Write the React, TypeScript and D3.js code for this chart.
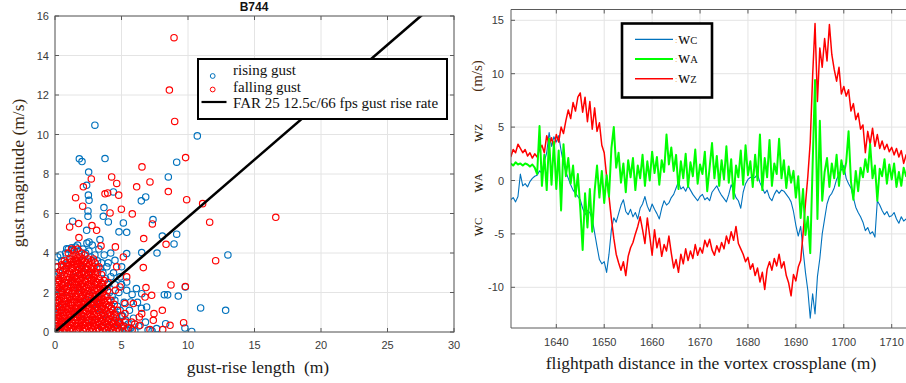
import React from "react";
import * as d3 from "d3";

// ---------- Left chart data (B744 gusts) ----------
const risingGust: [number, number][] = [
  [3.0, 10.47], [10.7, 9.93], [1.83, 8.77], [2.03, 8.63], [3.76, 8.78], [9.15, 8.6], [8.52, 7.85],
  [2.53, 8.1], [2.38, 7.43], [2.51, 6.93], [2.56, 6.67], [4.39, 7.09], [6.49, 6.64], [6.82, 6.84],
  [3.68, 6.3], [2.48, 6.13], [2.48, 5.86], [3.63, 5.86], [4.01, 5.57], [7.37, 5.69], [1.33, 5.61],
  [5.14, 5.52], [5.39, 5.05], [4.81, 5.07], [2.38, 5.15], [9.15, 4.95], [8.07, 4.86], [8.95, 4.46],
  [2.56, 4.56], [3.38, 4.68], [7.67, 4.0], [13.0, 3.9], [6.52, 4.02], [5.39, 3.97], [0.2, 3.8],
  [4.19, 4.0], [0.88, 4.22], [1.25, 4.27], [9.27, 1.82], [8.47, 1.88], [8.22, 1.89], [10.95, 1.22],
  [12.83, 1.1], [9.8, 2.28], [10.28, 0.03], [9.77, 0.2], [6.12, 2.2], [6.52, 1.94], [5.69, 1.52],
  [5.39, 2.53], [5.39, 2.11], [6.89, 1.27], [8.32, 0.42], [7.64, 0.17], [5.51, 0.08], [5.04, 0.84],
  [4.51, 3.63], [5.01, 3.3], [4.89, 2.79],
  [0.05, 1.5], [0.1, 1.9], [0.02, 1.2], [0.15, 2.3], [0.3, 3.0], [0.5, 3.6], [0.8, 4.0], [1.0, 4.2],
  [1.3, 4.15], [1.55, 4.3], [1.8, 4.1], [2.1, 4.2], [2.3, 4.0], [2.55, 4.1], [2.7, 3.8], [3.0, 3.9],
  [2.2, 3.6], [1.2, 3.7], [0.9, 3.4], [3.2, 3.6], [3.4, 3.2], [3.6, 3.0], [3.8, 2.7], [4.0, 2.4],
  [4.1, 2.0], [4.3, 1.8], [4.5, 1.6], [4.7, 1.3], [4.9, 1.1], [5.1, 0.8], [5.3, 0.6], [5.5, 0.4],
  [5.7, 0.2], [6.0, 0.05], [5.9, 0.7], [5.6, 1.1], [5.2, 1.5], [4.8, 2.0], [4.5, 2.4], [4.2, 2.8],
  [3.9, 3.3], [3.5, 3.5], [4.6, 0.9], [4.4, 0.5], [4.0, 0.2], [3.7, 0.9], [3.3, 1.7], [3.0, 2.4],
  [2.5, 2.9], [2.0, 3.2], [1.5, 2.8], [1.0, 2.5], [0.5, 2.0], [0.3, 1.0], [0.8, 0.5], [1.5, 1.0],
  [2.2, 1.5], [2.8, 0.6], [3.5, 0.3], [0.2, 0.3], [0.6, 1.4], [1.8, 2.2], [2.6, 1.9], [3.2, 1.2],
  [4.2, 1.2], [4.8, 0.4], [5.4, 0.1], [6.3, 0.3], [6.5, 1.2], [6.2, 1.5], [5.8, 1.9], [5.0, 2.4],
  [4.4, 3.0], [4.0, 3.5], [3.7, 3.9], [3.3, 4.2], [2.8, 4.4], [0.0, 2.8], [0.05, 3.3], [0.4, 3.9],
  [1.7, 4.4], [2.4, 4.5], [1.1, 1.8], [2.0, 0.8], [2.9, 1.4], [3.6, 2.2], [0.0, 0.6], [0.1, 0.1],
  [7.0, 0.1], [6.8, 0.5], [7.3, 0.05],
];

const fallingGust: [number, number][] = [
  [8.95, 14.9], [8.6, 12.25], [9.0, 10.66], [9.82, 8.83], [6.54, 8.36], [9.9, 6.7], [11.1, 6.5],
  [11.63, 5.56], [16.6, 5.81], [12.08, 3.61], [8.52, 7.11], [7.14, 7.6], [6.14, 7.35], [4.26, 7.85],
  [4.64, 7.52], [4.79, 6.93], [3.96, 7.04], [2.73, 7.75], [2.13, 7.35], [1.55, 6.8], [2.08, 6.37],
  [4.14, 6.03], [4.99, 6.22], [5.81, 5.98], [7.32, 5.47], [6.67, 4.73], [8.35, 4.44], [6.64, 3.26],
  [8.72, 2.38], [9.8, 2.3], [6.84, 2.25], [1.1, 5.32], [1.78, 5.49], [1.8, 4.78], [2.78, 5.39],
  [3.13, 5.15], [3.46, 4.36], [4.54, 4.31], [3.76, 7.0], [9.67, 0.47], [8.65, 0.34], [7.14, 0.12],
  [7.39, 0.59], [8.07, 1.1], [7.44, 0.93], [7.27, 1.86], [6.77, 1.77], [6.52, 0.93], [5.89, 1.44],
  [5.76, 0.5], [6.39, 0.34], [8.1, 0.12], [6.34, 0.76], [5.26, 1.44], [5.26, 0.93], [4.89, 2.28],
  [4.64, 3.3], [5.39, 2.79], [4.54, 2.11], [5.14, 3.8],
  [0.08, 0.05], [0.12, 0.3], [0.05, 0.6], [0.15, 0.85], [0.1, 1.15], [0.06, 1.45], [0.14, 1.8], [0.09, 2.1], [0.2, 2.5], [0.12, 2.9],
  [0.33, 0.1], [0.38, 0.4], [0.3, 0.7], [0.4, 0.95], [0.35, 1.25], [0.32, 1.6], [0.42, 1.9], [0.36, 2.25], [0.3, 2.6], [0.4, 3.1],
  [0.58, 0.02], [0.62, 0.25], [0.55, 0.55], [0.65, 0.85], [0.6, 1.1], [0.57, 1.4], [0.66, 1.7], [0.6, 2.0], [0.55, 2.35], [0.63, 2.7], [0.58, 3.05], [0.62, 3.35],
  [0.86, 0.12], [0.82, 0.45], [0.9, 0.7], [0.84, 1.0], [0.88, 1.3], [0.8, 1.55], [0.9, 1.85], [0.85, 2.15], [0.82, 2.5], [0.9, 2.8], [0.86, 3.2], [0.84, 3.5],
  [1.1, 0.05], [1.14, 0.35], [1.06, 0.6], [1.12, 0.9], [1.08, 1.2], [1.15, 1.5], [1.1, 1.8], [1.05, 2.1], [1.13, 2.4], [1.1, 2.75], [1.07, 3.05], [1.14, 3.4], [1.1, 3.7],
  [1.35, 0.15], [1.32, 0.45], [1.4, 0.75], [1.36, 1.05], [1.3, 1.35], [1.38, 1.65], [1.34, 1.95], [1.4, 2.25], [1.33, 2.55], [1.37, 2.9], [1.32, 3.2], [1.39, 3.55], [1.35, 3.85],
  [1.6, 0.05], [1.63, 0.3], [1.57, 0.6], [1.62, 0.9], [1.58, 1.2], [1.65, 1.5], [1.6, 1.8], [1.56, 2.1], [1.63, 2.4], [1.6, 2.7], [1.57, 3.0], [1.64, 3.3], [1.6, 3.6], [1.58, 3.9],
  [1.85, 0.2], [1.88, 0.5], [1.82, 0.8], [1.87, 1.1], [1.83, 1.4], [1.9, 1.7], [1.85, 2.0], [1.8, 2.3], [1.88, 2.6], [1.84, 2.9], [1.86, 3.2], [1.82, 3.5], [1.88, 3.8],
  [2.1, 0.05], [2.12, 0.35], [2.06, 0.65], [2.14, 0.95], [2.08, 1.25], [2.12, 1.55], [2.07, 1.85], [2.13, 2.15], [2.1, 2.45], [2.05, 2.75], [2.14, 3.05], [2.1, 3.35], [2.08, 3.7],
  [2.35, 0.15], [2.32, 0.45], [2.38, 0.75], [2.34, 1.05], [2.4, 1.35], [2.33, 1.65], [2.37, 1.95], [2.35, 2.25], [2.3, 2.55], [2.38, 2.85], [2.34, 3.2], [2.36, 3.5],
  [2.6, 0.05], [2.63, 0.3], [2.57, 0.6], [2.62, 0.9], [2.58, 1.2], [2.64, 1.5], [2.6, 1.8], [2.56, 2.1], [2.62, 2.4], [2.59, 2.75], [2.63, 3.05], [2.58, 3.4],
  [2.85, 0.15], [2.88, 0.45], [2.82, 0.75], [2.87, 1.05], [2.84, 1.35], [2.9, 1.65], [2.85, 1.95], [2.8, 2.25], [2.88, 2.6], [2.84, 2.95], [2.86, 3.3],
  [3.1, 0.05], [3.12, 0.35], [3.06, 0.65], [3.14, 0.95], [3.08, 1.25], [3.12, 1.55], [3.07, 1.9], [3.13, 2.2], [3.1, 2.55], [3.05, 2.9], [3.14, 3.25],
  [3.35, 0.1], [3.32, 0.4], [3.38, 0.7], [3.34, 1.0], [3.4, 1.3], [3.33, 1.6], [3.37, 1.95], [3.35, 2.3], [3.3, 2.7],
  [3.6, 0.05], [3.63, 0.35], [3.57, 0.65], [3.62, 0.95], [3.58, 1.3], [3.64, 1.65], [3.6, 2.0], [3.56, 2.4],
  [3.85, 0.1], [3.88, 0.4], [3.82, 0.7], [3.87, 1.05], [3.84, 1.4], [3.9, 1.8],
  [4.1, 0.05], [4.12, 0.35], [4.06, 0.65], [4.14, 1.0], [4.08, 1.35],
  [4.35, 0.1], [4.32, 0.4], [4.38, 0.75], [4.34, 1.1],
  [4.6, 0.05], [4.63, 0.35], [4.57, 0.7], [4.85, 0.1], [4.88, 0.45], [5.1, 0.05], [5.15, 0.3],
  [0.2, 3.3], [0.7, 3.6], [1.0, 4.0], [1.45, 4.1], [1.7, 4.2], [2.0, 4.0], [2.25, 3.9], [2.5, 3.7],
  [2.75, 3.6], [3.0, 3.5], [3.2, 3.0], [3.5, 2.9], [3.7, 2.6], [3.95, 2.1], [4.2, 1.6], [4.45, 1.4],
  [4.7, 1.1], [5.0, 0.8], [5.3, 0.5], [5.5, 0.2], [5.8, 0.1], [6.0, 0.4], [1.25, 4.2], [0.5, 3.4],
  [2.9, 3.7], [3.3, 3.3], [0.05, 2.4], [4.0, 2.5],
  [0.22, 0.2], [0.19, 0.45], [0.25, 0.75], [0.2, 1.0], [0.24, 1.3], [0.18, 1.6], [0.23, 1.95], [0.2, 2.3], [0.25, 2.7],
  [0.47, 0.25], [0.5, 0.55], [0.44, 0.8], [0.49, 1.1], [0.45, 1.4], [0.5, 1.75], [0.46, 2.1], [0.49, 2.45], [0.44, 2.85],
  [0.72, 0.12], [0.7, 0.4], [0.75, 0.7], [0.69, 1.0], [0.74, 1.25], [0.71, 1.55], [0.76, 1.85], [0.7, 2.2], [0.73, 2.5], [0.69, 2.9], [0.75, 3.2],
  [0.97, 0.25], [0.94, 0.55], [1.0, 0.85], [0.96, 1.15], [0.99, 1.45], [0.95, 1.7], [1.0, 2.0], [0.96, 2.3], [0.98, 2.65], [0.94, 2.95], [0.99, 3.35],
  [1.22, 0.2], [1.25, 0.5], [1.2, 0.75], [1.24, 1.05], [1.19, 1.35], [1.23, 1.65], [1.26, 1.95], [1.21, 2.25], [1.24, 2.6], [1.2, 2.9], [1.25, 3.25], [1.22, 3.55],
  [1.47, 0.3], [1.5, 0.6], [1.45, 0.9], [1.49, 1.2], [1.46, 1.5], [1.5, 1.8], [1.44, 2.1], [1.48, 2.4], [1.45, 2.75], [1.5, 3.05], [1.47, 3.4], [1.49, 3.7],
  [1.72, 0.15], [1.75, 0.45], [1.7, 0.75], [1.74, 1.05], [1.71, 1.35], [1.76, 1.65], [1.72, 1.95], [1.69, 2.25], [1.74, 2.55], [1.7, 2.85], [1.75, 3.15], [1.72, 3.45], [1.7, 3.75],
  [1.97, 0.3], [2.0, 0.6], [1.95, 0.9], [1.99, 1.2], [1.96, 1.5], [2.0, 1.8], [1.94, 2.1], [1.98, 2.4], [1.95, 2.7], [2.0, 3.0], [1.96, 3.35], [1.99, 3.6],
  [2.22, 0.2], [2.25, 0.5], [2.2, 0.8], [2.24, 1.1], [2.21, 1.4], [2.26, 1.7], [2.22, 2.0], [2.19, 2.3], [2.24, 2.6], [2.2, 2.9], [2.25, 3.2], [2.22, 3.55],
  [2.47, 0.3], [2.5, 0.6], [2.45, 0.9], [2.49, 1.2], [2.46, 1.5], [2.5, 1.8], [2.44, 2.1], [2.48, 2.4], [2.45, 2.7], [2.5, 3.0], [2.47, 3.3],
  [2.72, 0.2], [2.75, 0.5], [2.7, 0.8], [2.74, 1.1], [2.71, 1.4], [2.76, 1.7], [2.72, 2.0], [2.69, 2.3], [2.74, 2.6], [2.7, 2.9], [2.75, 3.2],
  [2.97, 0.3], [3.0, 0.6], [2.95, 0.9], [2.99, 1.2], [2.96, 1.5], [3.0, 1.8], [2.94, 2.1], [2.98, 2.4], [2.95, 2.75], [3.0, 3.05],
  [3.22, 0.2], [3.25, 0.5], [3.2, 0.8], [3.24, 1.1], [3.21, 1.45], [3.26, 1.8], [3.22, 2.1], [3.19, 2.5],
  [3.47, 0.25], [3.5, 0.55], [3.45, 0.85], [3.49, 1.15], [3.46, 1.5], [3.5, 1.8], [3.44, 2.15], [3.48, 2.5],
  [3.72, 0.2], [3.75, 0.5], [3.7, 0.8], [3.74, 1.15], [3.71, 1.5], [3.76, 1.85], [3.72, 2.2],
  [3.97, 0.25], [4.0, 0.55], [3.95, 0.9], [3.99, 1.25], [3.96, 1.6],
  [4.22, 0.2], [4.25, 0.5], [4.2, 0.85], [4.24, 1.2],
  [4.47, 0.25], [4.5, 0.55], [4.45, 0.9], [4.72, 0.2], [4.75, 0.5], [4.97, 0.3], [0.02, 0.3], [0.03, 1.0], [0.02, 1.75],
];

const farRiseLine: [number, number][] = [[0, 0], [30, 17.45]];
const gustXTicks = [0, 5, 10, 15, 20, 25, 30];
const gustYTicks = [0, 2, 4, 6, 8, 10, 12, 14, 16];
const gustLegend = ["rising gust", "falling gust", "FAR 25 12.5c/66 fps gust rise rate"];

// ---------- Right chart data (velocity components) ----------
const distanceStart = 1630.5;
const distanceStep = 0.5;
const wC = [
  -1.8, -1.6, -2.0, -1.5, 0.6, -0.5, -0.3, -0.6, -0.1, 0.2,
  0.4, 0.5, 0.9, 0.7, 1.8, 2.6, 4.5, 3.2, 4.1, 3.6,
  4.2, 2.8, 1.6, 0.8, 0.2, -0.4, -0.9, -1.2, -1.5, -1.8,
  -2.6, -3.2, -2.8, -3.0, -3.6, -4.9, -6.2, -7.4, -7.8, -7.6,
  -8.6, -6.9, -4.6, -3.5, -3.9, -3.1, -2.3, -1.8, -2.9, -3.2,
  -2.7, -3.4, -3.0, -3.6, -2.6, -2.2, -1.5, -2.4, -2.9, -2.2,
  -2.7, -3.1, -3.6, -2.6, -1.9, -2.3, -2.1, -1.6, -1.3, -0.7,
  -0.1, -0.8, -0.6, -1.0, -0.5, -0.9, -1.3, -1.6, -1.9, -1.5,
  -1.3, -1.8, -1.6, -1.9, -1.1, -0.8, -0.5, -1.0, -1.4, -1.7,
  -2.0, -1.3, -0.4, -0.9, -1.6, -1.9, -2.6, -1.1, -0.3, 0.1,
  0.3, 0.2, 0.3, 0.6, -0.2, -0.7, -1.2, -0.9, -1.6, -1.9,
  -1.3, -0.9, -1.2, -0.9, -1.0, -1.3, -1.6, -2.0, -2.9, -4.2,
  -5.2, -4.3, -6.5, -8.6, -10.3, -12.9, -10.6, -12.5, -9.0, -7.3,
  -5.0, -3.6, -2.2, -1.5, -1.2, -0.7, 0.1, 0.6, 1.0, 1.4,
  0.2, -0.3, -0.7, -1.6, -2.5, -3.0, -3.4, -3.9, -4.7, -4.4,
  -5.0, -4.8, -5.3, -1.9, -2.3, -2.8, -3.2, -2.9, -3.4, -3.3,
  -3.0, -3.6, -4.0, -3.4, -3.8, -3.6, -3.7,
];
const wA = [
  1.6, 1.4, 1.7, 1.5, 1.6, 1.4, 1.6, 1.5, 1.3, 1.5,
  1.2, 0.6, 5.1, -0.5, 2.4, -0.9, 3.9, -0.4, 3.6, -0.8,
  2.8, -2.8, 3.4, 0.4, 2.1, -0.3, 1.4, -1.5, 0.6, -2.6,
  -6.5, -1.2, -4.4, -0.8, -4.8, -1.0, 1.4, -1.6, 0.9, -2.1,
  0.5, -1.5, 3.0, 5.0, 1.2, 2.6, -0.2, 1.6, -1.1, 1.9,
  0.3, 2.1, -0.9, 1.4, 0.2, 2.4, -0.5, 1.8, 0.0, 2.7,
  0.7, 2.2, -0.4, 1.9, 0.8, 4.3, 1.5, 3.1, 0.9, 2.4,
  -0.8, 1.8, 0.2, 2.5, -0.6, 1.7, 0.4, 2.9, -0.3, 1.5,
  0.6, 2.7, -1.0, 1.2, 3.5, 0.2, 2.3, -0.5, 1.9, 0.1,
  3.2, -0.2, 2.0, -1.7, 1.4, 0.3, 2.8, -0.4, 3.3, 0.5,
  1.8, -0.6, 2.4, 0.0, 4.3, -0.9, 2.1, 0.3, 3.8, -0.5,
  1.6, 0.6, 3.9, 0.2, 1.9, -0.7, 1.3, -0.2, 0.9, -1.6,
  0.4, -3.5, -0.8, -5.1, -3.4, -6.8, 1.5, 9.4, -3.6, 5.6,
  -1.9, 0.8, 2.1, -0.6, 1.6, 0.2, 2.4, -0.5, 1.9, 0.6,
  1.7, 4.6, -0.1, -1.8, 0.9, -1.0, 1.2, 0.3, 2.0, 0.8,
  3.4, 0.2, 1.4, -1.9, 1.1, 0.4, 2.0, -0.3, 1.5, 0.1,
  1.6, -0.6, 0.8, -0.5, 1.2, 0.4, 0.9,
];
const wZ = [
  2.2, 2.9, 2.6, 3.4, 3.0, 2.6, 2.9, 2.3, 2.6, 2.1,
  2.5, 2.2, 2.9, 3.3, 2.6, 4.2, 3.4, 4.0, 3.1, 4.3,
  3.6, 5.0, 4.4, 5.6, 6.6, 5.8, 7.3, 6.5, 7.8, 8.2,
  6.4, 7.8, 5.5, 7.4, 4.8, 6.8, 4.6, 5.4, 3.3, 2.6,
  0.4, -1.5, -3.6, -5.4, -6.9, -7.7, -8.4, -7.6, -8.9, -7.1,
  -6.3, -5.8, -5.0, -4.3, -3.4, -4.6, -5.9, -3.5, -5.2, -7.0,
  -4.6, -6.3, -5.4, -7.1, -6.0, -6.6, -5.2, -6.8, -8.2, -7.4,
  -8.6, -6.9, -7.8, -6.4, -7.5, -6.6, -7.3, -6.0, -7.0, -6.3,
  -6.8, -5.6, -6.2, -5.5, -6.5, -7.0, -6.1, -6.7, -5.8, -6.4,
  -5.2, -5.9, -4.8, -5.6, -4.3, -5.9, -6.4, -6.9, -7.6, -7.2,
  -8.3, -7.8, -8.9, -8.2, -9.5, -8.6, -10.2, -8.3, -7.6, -8.4,
  -7.3, -8.0, -6.9, -8.2, -7.6, -8.9, -9.6, -10.8, -8.8, -9.4,
  -8.1, -7.5, -5.0, -2.2, 0.4, 3.6, 9.8, 14.7, 7.4, 12.4,
  10.6, 13.3, 11.2, 14.6, 11.8, 10.4, 9.3, 10.6, 8.1, 8.8,
  7.9, 8.5, 6.5, 7.2, 5.7, 6.3, 4.8, 5.2, 2.6, 4.6,
  3.4, 4.9, 3.2, 4.3, 3.0, 3.7, 2.9, 3.4, 2.7, 3.1,
  2.4, 3.0, 2.2, 2.8, 1.6, 2.4, 2.0,
];
const distTicks = [1640, 1650, 1660, 1670, 1680, 1690, 1700, 1710];
const velTicks = [-10, -5, 0, 5, 10, 15];
const velLegend = [
  { main: "w", sub: "C", color: "#0072BD", width: 1.2 },
  { main: "w", sub: "A", color: "#00FF00", width: 2.2 },
  { main: "w", sub: "Z", color: "#FF0000", width: 1.5 },
];

const SANS = "'Liberation Sans', Arial, sans-serif";
const SERIF = "'Liberation Serif', 'Times New Roman', serif";
const GRID = "#e4e4e4";
const FRAME = "#5a5a5a";
const TICKTXT = "#3a3a3a";
const BLUE = "#0072BD";
const RED = "#FF0000";

function LeftChart() {
  const L = 55, R = 454, T = 16, B = 332;
  const x = d3.scaleLinear().domain([0, 30]).range([L, R]);
  const y = d3.scaleLinear().domain([0, 16]).range([B, T]);
  const line = d3.line<[number, number]>().x((d) => x(d[0])).y((d) => y(d[1]));
  return (
    <g>
      <defs>
        <clipPath id="clipLeft">
          <rect x={L} y={T} width={R - L} height={B - T} />
        </clipPath>
      </defs>
      <rect x={L} y={T} width={R - L} height={B - T} fill="#fff" />
      {gustXTicks.map((t) => (
        <line key={"gx" + t} x1={x(t)} x2={x(t)} y1={T} y2={B} stroke={GRID} />
      ))}
      {gustYTicks.map((t) => (
        <line key={"gy" + t} x1={L} x2={R} y1={y(t)} y2={y(t)} stroke={GRID} />
      ))}
      <g clipPath="url(#clipLeft)">
        {risingGust.map((d, i) => (
          <circle key={"r" + i} cx={x(d[0])} cy={y(d[1])} r={3.2} fill="none" stroke={BLUE} strokeWidth={1.15} />
        ))}
        {fallingGust.map((d, i) => (
          <circle key={"f" + i} cx={x(d[0])} cy={y(d[1])} r={3.2} fill="none" stroke={RED} strokeWidth={1.15} />
        ))}
        <path d={line(farRiseLine) || ""} stroke="#000" strokeWidth={2.6} fill="none" />
      </g>
      <rect x={L} y={T} width={R - L} height={B - T} fill="none" stroke={FRAME} strokeWidth={1} />
      {gustXTicks.map((t) => (
        <g key={"xt" + t}>
          <line x1={x(t)} x2={x(t)} y1={B} y2={B - 4} stroke={FRAME} />
          <line x1={x(t)} x2={x(t)} y1={T} y2={T + 4} stroke={FRAME} />
          <text x={x(t)} y={349} fontFamily={SANS} fontSize={11} fill={TICKTXT} textAnchor="middle">{t}</text>
        </g>
      ))}
      {gustYTicks.map((t) => (
        <g key={"yt" + t}>
          <line x1={L} x2={L + 4} y1={y(t)} y2={y(t)} stroke={FRAME} />
          <line x1={R} x2={R - 4} y1={y(t)} y2={y(t)} stroke={FRAME} />
          <text x={49} y={y(t) + 4} fontFamily={SANS} fontSize={11} fill={TICKTXT} textAnchor="end">{t}</text>
        </g>
      ))}
      <text x={254} y={11} fontFamily={SANS} fontSize={12} fontWeight="bold" textAnchor="middle" fill="#111">B744</text>
      <text x={258} y={373} fontFamily={SERIF} fontSize={17.5} textAnchor="middle" fill="#1a1a1a" xmlSpace="preserve">gust-rise length  (m)</text>
      <text transform="translate(24,173) rotate(-90)" fontFamily={SERIF} fontSize={17.5} textAnchor="middle" fill="#3a2a12">gust magnitude (m/s)</text>
      {/* legend */}
      <rect x={198} y={59} width={249} height={60} fill="#fff" stroke="#000" strokeWidth={2} />
      <circle cx={212.7} cy={76} r={2.4} fill="none" stroke={BLUE} strokeWidth={1} />
      <circle cx={212.7} cy={89.5} r={2.4} fill="none" stroke={RED} strokeWidth={1} />
      <line x1={201.5} x2={226.5} y1={102} y2={102} stroke="#000" strokeWidth={2.2} />
      {gustLegend.map((s, i) => (
        <text key={s} x={233} y={75 + i * 16.5} fontFamily={SERIF} fontSize={15} fill="#111">{s}</text>
      ))}
    </g>
  );
}

function RightChart() {
  const L = 511, R = 930, T = 9.5, B = 328;
  const x = d3.scaleLinear().domain([1640, 1710]).range([556.3, 891.7]);
  const y = d3.scaleLinear().domain([-10, 15]).range([287.3, 20.3]);
  const mk = (vals: number[]) =>
    d3.line<number>().x((_, i) => x(distanceStart + i * distanceStep)).y((v) => y(v))(vals) || "";
  return (
    <g>
      <defs>
        <clipPath id="clipRight">
          <rect x={L} y={T} width={R - L} height={B - T} />
        </clipPath>
      </defs>
      {distTicks.map((t) => (
        <line key={"dx" + t} x1={x(t)} x2={x(t)} y1={T} y2={B} stroke={GRID} />
      ))}
      {velTicks.map((t) => (
        <line key={"dy" + t} x1={L} x2={R} y1={y(t)} y2={y(t)} stroke={GRID} />
      ))}
      <g clipPath="url(#clipRight)" fill="none" strokeLinejoin="round">
        <path d={mk(wC)} stroke={velLegend[0].color} strokeWidth={1.1} />
        <path d={mk(wZ)} stroke={velLegend[2].color} strokeWidth={1.5} />
        <path d={mk(wA)} stroke={velLegend[1].color} strokeWidth={2} />
      </g>
      <line x1={L} x2={R} y1={T} y2={T} stroke={FRAME} />
      <line x1={L} x2={R} y1={B} y2={B} stroke={FRAME} />
      <line x1={L} x2={L} y1={T} y2={B} stroke={FRAME} />
      {distTicks.map((t) => (
        <g key={"dt" + t}>
          <line x1={x(t)} x2={x(t)} y1={B} y2={B - 4} stroke={FRAME} />
          <line x1={x(t)} x2={x(t)} y1={T} y2={T + 4} stroke={FRAME} />
          <text x={x(t)} y={346} fontFamily={SANS} fontSize={11} fill={TICKTXT} textAnchor="middle">{t}</text>
        </g>
      ))}
      {velTicks.map((t) => (
        <g key={"vt" + t}>
          <line x1={L} x2={L + 4} y1={y(t)} y2={y(t)} stroke={FRAME} />
          <text x={504} y={y(t) + 4} fontFamily={SANS} fontSize={11} fill={TICKTXT} textAnchor="end">{t}</text>
        </g>
      ))}
      <text x={711} y={369} fontFamily={SERIF} fontSize={17.5} textAnchor="middle" fill="#1a1a1a">flightpath distance in the vortex crossplane (m)</text>
      <text transform="translate(479,76) rotate(-90)" fontFamily={SERIF} fontSize={15} textAnchor="middle" dominantBaseline="middle" fill="#4a2a10">(m/s)</text>
      {[
        { c: 133, s: "Z" },
        { c: 183, s: "A" },
        { c: 227, s: "C" },
      ].map((d) => (
        <text key={d.s} transform={`translate(479,${d.c}) rotate(-90)`} fontFamily={SERIF} textAnchor="middle" dominantBaseline="middle" fill="#2a1a0a">
          <tspan fontSize={16}>w</tspan>
          <tspan fontSize={11}>{d.s}</tspan>
        </text>
      ))}
      {/* legend */}
      <rect x={622} y={23.5} width={90} height={74} fill="#fff" stroke="#000" strokeWidth={2.6} />
      {velLegend.map((d, i) => (
        <g key={d.sub}>
          <line x1={635} x2={673} y1={39.3 + i * 19.7} y2={39.3 + i * 19.7} stroke={d.color} strokeWidth={d.width} />
          <text x={675} y={42.5 + i * 19.7} fontFamily={SERIF} fontSize={9} fill="#e8a040">:</text>
          <text x={678} y={43.5 + i * 19.7} fontFamily={SERIF} fill="#111">
            <tspan fontSize={17}>{d.main}</tspan>
            <tspan fontSize={10.5}>{d.sub}</tspan>
          </text>
        </g>
      ))}
    </g>
  );
}

export default function App() {
  return (
    <svg
      width={906}
      height={383}
      viewBox="0 0 906 383"
      style={{ position: "absolute", left: 0, top: 0, background: "#fff" }}
    >
      <rect width={906} height={383} fill="#fff" />
      <LeftChart />
      <RightChart />
    </svg>
  );
}
